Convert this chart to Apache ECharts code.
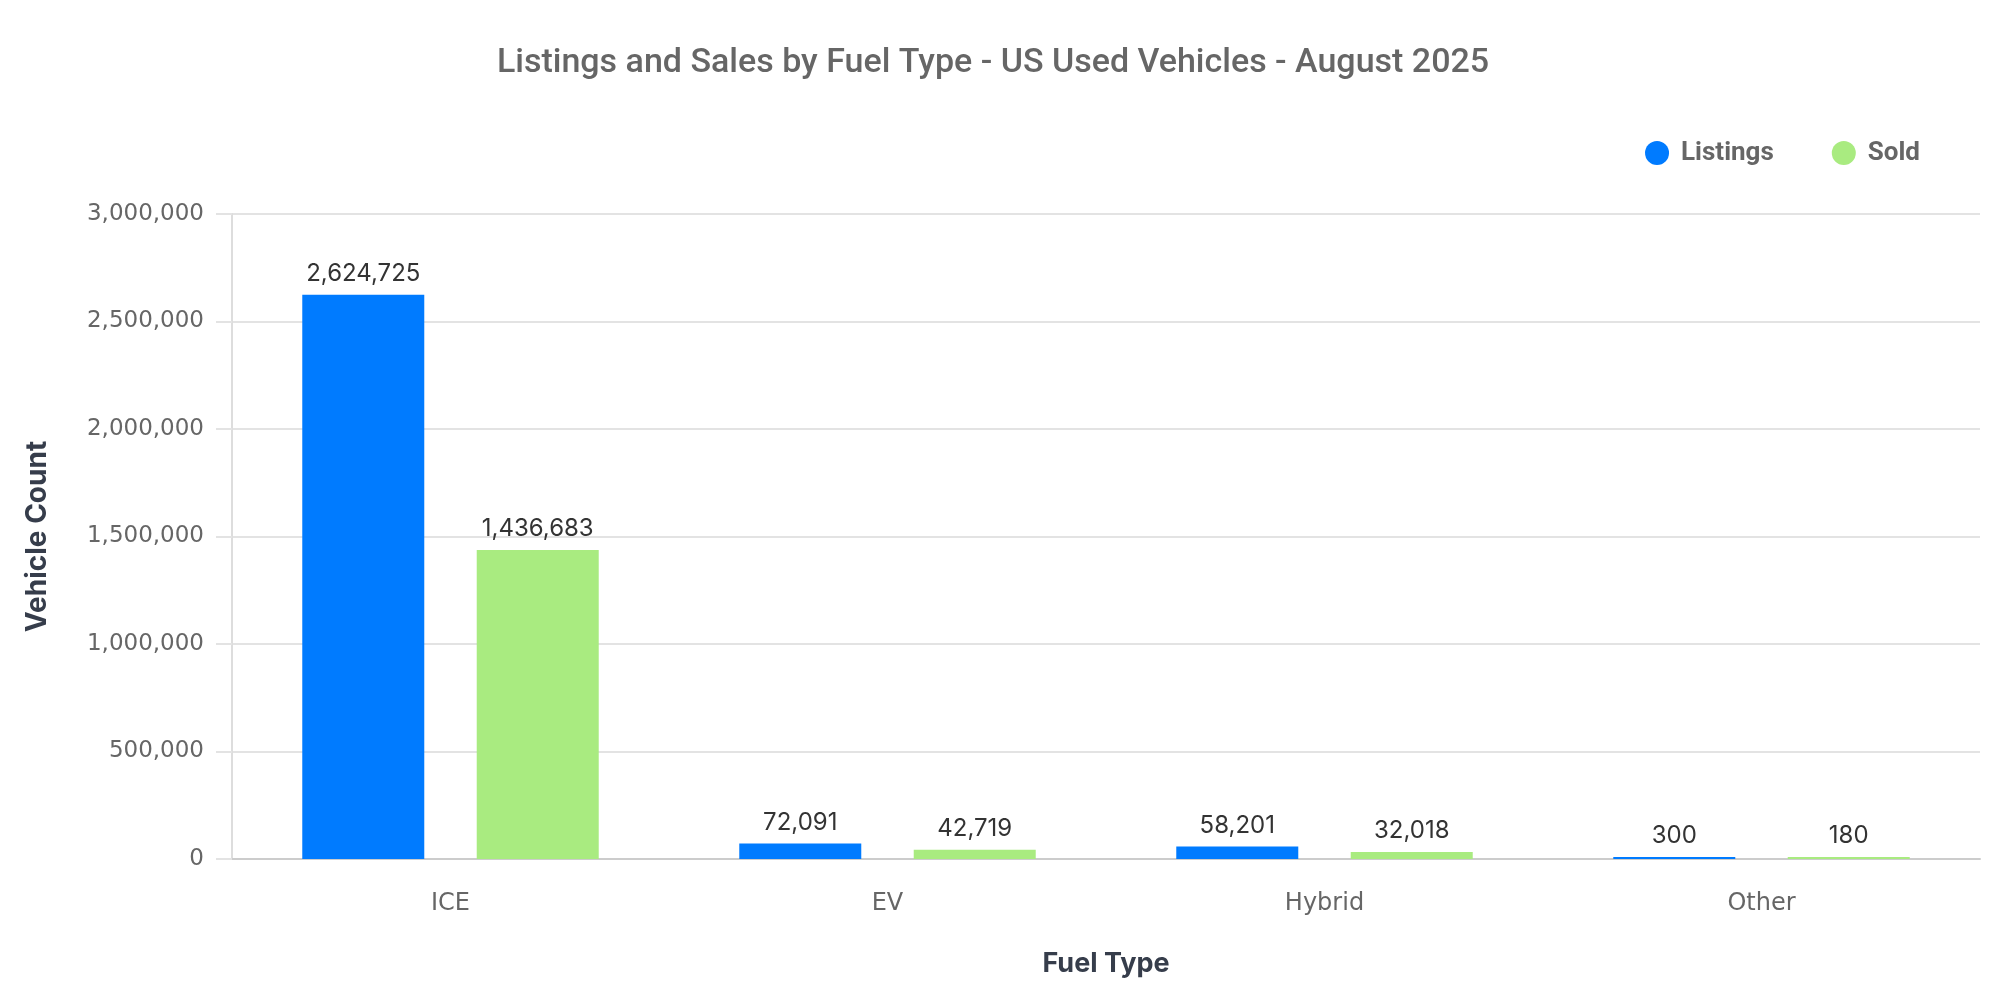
<!DOCTYPE html>
<html>
<head>
<meta charset="utf-8">
<script src="https://cdn.jsdelivr.net/npm/echarts@6/dist/echarts.min.js"></script>
<style>
    html, body { margin: 0; padding: 0; background: #fff; }
    #chart { width: 2000px; height: 1000px; }
</style>
</head>
<body>
<div id="chart"></div>
<script>
var fuelTypes = ["ICE", "EV", "Hybrid", "Other"];
var listings = [2624725, 72091, 58201, 300];
var sold = [1436683, 42719, 32018, 180];
var yTicks = [0, 500000, 1000000, 1500000, 2000000, 2500000, 3000000];

var fmt = function (v) {
    return Number(v).toLocaleString("en-US");
};

var myChart = echarts.init(document.getElementById("chart"));

var labelStyle = {
    show: true,
    position: "top",
    distance: 9,
    color: "#333",
    fontFamily: "Inter",
    fontSize: 24,
    formatter: function (p) { return fmt(p.value); }
};

var option = {
    animation: false,
    title: {
        text: "Listings and Sales by Fuel Type - US Used Vehicles - August 2025",
        left: 988,
        textAlign: "center",
        top: 41,
        textStyle: { fontFamily: "Roboto", fontSize: 34, fontWeight: 500, color: "#666" }
    },
    legend: {
        data: ["Listings", "Sold"],
        right: 75,
        top: 135,
        icon: "circle",
        itemWidth: 24,
        itemHeight: 24,
        itemGap: 58,
        textStyle: { fontFamily: "Roboto", fontSize: 26, fontWeight: "bold", color: "#666", padding: [0, 0, 0, 7] }
    },
    grid: { left: 232, right: 20, top: 214, bottom: 141 },
    xAxis: {
        type: "category",
        data: fuelTypes,
        name: "Fuel Type",
        nameLocation: "middle",
        nameGap: 91,
        nameTextStyle: { fontFamily: "Inter", fontSize: 27, fontWeight: "bold", color: "#363d4b" },
        axisLine: { lineStyle: { color: "#ccc", width: 2 } },
        axisTick: { show: false },
        axisLabel: { margin: 33, fontFamily: "DejaVu Sans", fontSize: 24, color: "#666" }
    },
    yAxis: {
        type: "value",
        min: yTicks[0],
        max: yTicks[yTicks.length - 1],
        interval: yTicks[1] - yTicks[0],
        name: "Vehicle Count",
        nameLocation: "middle",
        nameRotate: 90,
        nameGap: 180,
        nameTextStyle: { fontFamily: "Inter", fontSize: 28, fontWeight: "bold", color: "#363d4b" },
        axisLine: { show: true, lineStyle: { color: "#ddd", width: 2 } },
        axisTick: { show: true, length: 16, lineStyle: { color: "#e3e3e3", width: 2 } },
        splitLine: { lineStyle: { color: "#e3e3e3", width: 2 } },
        axisLabel: { margin: 28, fontFamily: "DejaVu Sans", fontSize: 23, color: "#666", formatter: fmt }
    },
    series: [
        {
            name: "Listings",
            type: "bar",
            data: listings,
            barWidth: 122,
            barGap: "43%",
            barMinHeight: 2,
            itemStyle: { color: "#007bff" },
            label: labelStyle
        },
        {
            name: "Sold",
            type: "bar",
            data: sold,
            barWidth: 122,
            barMinHeight: 2,
            itemStyle: { color: "#a9eb80" },
            label: labelStyle
        }
    ]
};

myChart.setOption(option);
window.onresize = myChart.resize;
</script>
</body>
</html>
